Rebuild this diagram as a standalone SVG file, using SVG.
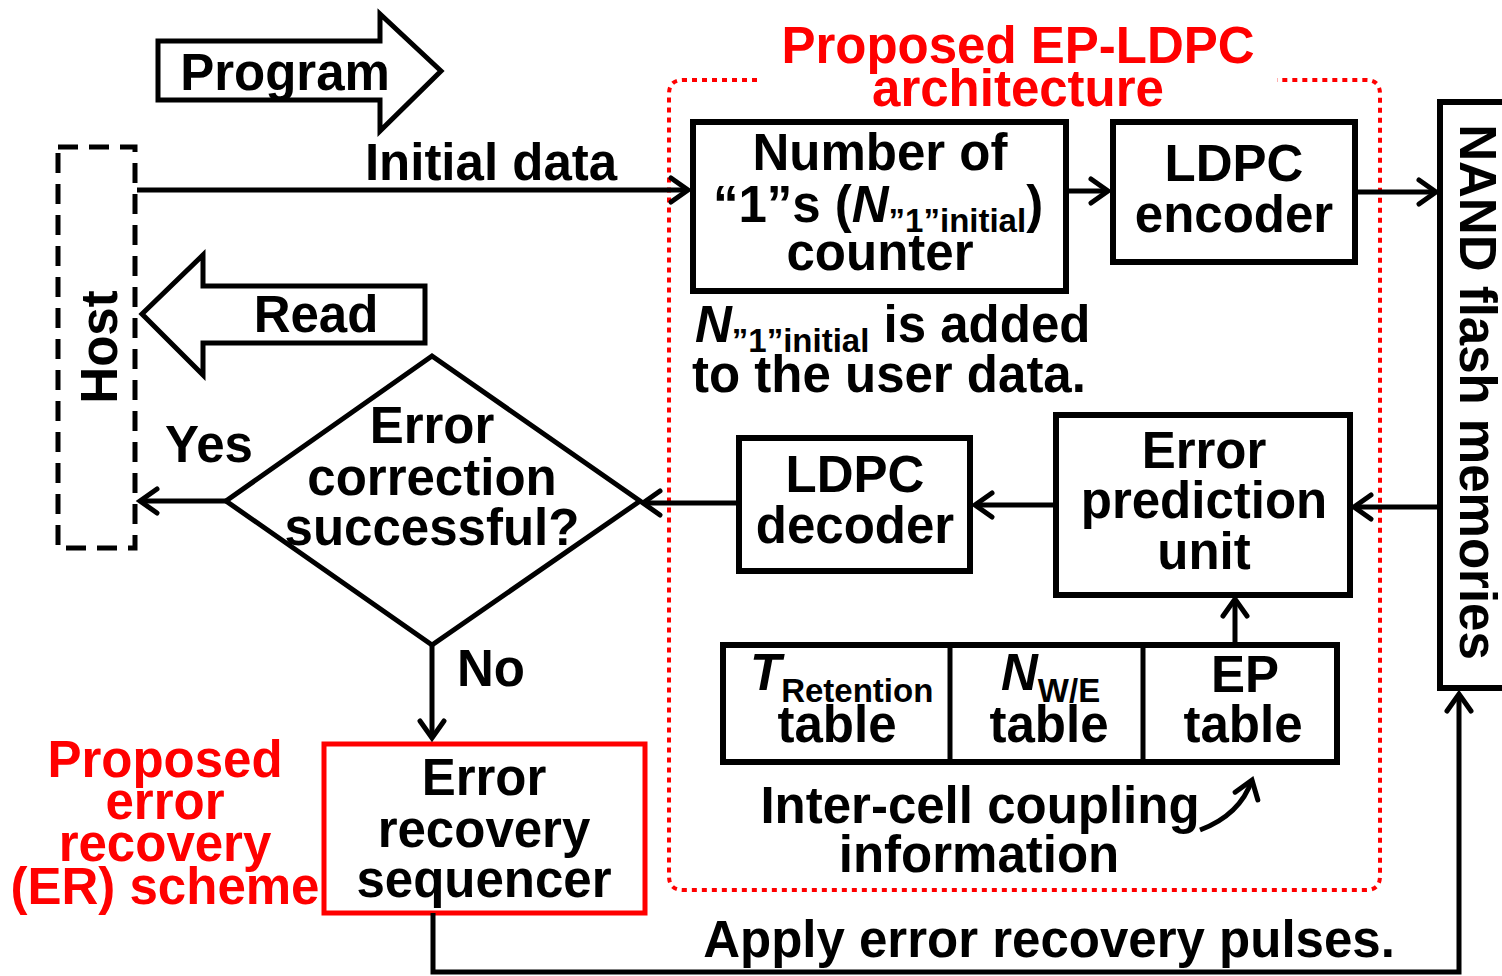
<svg xmlns="http://www.w3.org/2000/svg" width="1502" height="976" viewBox="0 0 1502 976">
<defs>
<style>
.t{font-family:"Liberation Sans",Arial,sans-serif;font-weight:bold;font-size:51px;fill:#000;text-anchor:middle}
.r{fill:#ff0000}
.sub{font-size:33px}
.box{fill:#fff;stroke:#000;stroke-width:6}
.ln{fill:none;stroke:#000;stroke-width:5}
</style>
<marker id="ah" markerUnits="userSpaceOnUse" markerWidth="30" markerHeight="30" viewBox="-22 -15 26 30" refX="0" refY="0" orient="auto">
<path d="M-17,-12 L0,0 L-17,12" fill="none" stroke="#000" stroke-width="5" stroke-linecap="round" stroke-linejoin="miter"/>
</marker>
</defs>
<rect width="1502" height="976" fill="#fff"/>

<g id="program">
<polygon class="ln" points="158,41 380,41 380,14 441,71 380,131 380,100 158,100"/>
<text class="t" x="285" y="90">Program</text>
</g>

<g id="read">
<polygon class="ln" points="425,286 203,286 203,255 142,314 203,375 203,343 425,343"/>
<text class="t" x="316" y="332">Read</text>
</g>

<g id="host">
<rect x="58" y="147" width="77" height="401" fill="none" stroke="#000" stroke-width="5" stroke-dasharray="20,11"/>
<text class="t" transform="translate(117,347) rotate(-90)">Host</text>
</g>

<g id="title">
<text class="t r" x="1018" y="63">Proposed EP-LDPC</text>
<text class="t r" x="1018" y="106">architecture</text>
<path d="M757,80 H683 Q669,80 669,94 V876 Q669,890 683,890 H1366 Q1380,890 1380,876 V94 Q1380,80 1366,80 H1277" fill="none" stroke="#ff0000" stroke-width="4" stroke-dasharray="5,5"/>
</g>

<g id="counter">
<rect class="box" x="693" y="122" width="373" height="169"/>
<text class="t" x="880" y="170">Number of</text>
<text class="t" x="878" y="222">“1”s (<tspan font-style="italic">N</tspan><tspan class="sub" dy="10">”1”initial</tspan><tspan dy="-10">)</tspan></text>
<text class="t" x="880" y="270">counter</text>
</g>

<g id="note">
<text class="t" x="695" y="342" style="text-anchor:start"><tspan font-style="italic">N</tspan><tspan class="sub" dy="10">”1”initial</tspan><tspan dy="-10"> is added</tspan></text>
<text class="t" x="692" y="392" style="text-anchor:start">to the user data.</text>
</g>

<g id="encoder">
<rect class="box" x="1113" y="122" width="242" height="140"/>
<text class="t" x="1234" y="181">LDPC</text>
<text class="t" x="1234" y="232">encoder</text>
</g>

<g id="nand">
<rect class="box" x="1440" y="102" width="80" height="586"/>
<text class="t" transform="translate(1460,392) rotate(90)">NAND flash memories</text>
</g>

<g id="epu">
<rect class="box" x="1056" y="415" width="294" height="180"/>
<text class="t" x="1204" y="468">Error</text>
<text class="t" x="1204" y="518">prediction</text>
<text class="t" x="1204" y="569">unit</text>
</g>

<g id="decoder">
<rect class="box" x="739" y="438" width="231" height="133"/>
<text class="t" x="855" y="492">LDPC</text>
<text class="t" x="855" y="543">decoder</text>
</g>

<g id="tables">
<rect class="box" x="723" y="645" width="614" height="117"/>
<line x1="950" y1="645" x2="950" y2="762" stroke="#000" stroke-width="5"/>
<line x1="1143" y1="645" x2="1143" y2="762" stroke="#000" stroke-width="5"/>
<text class="t" x="750" y="690" style="text-anchor:start"><tspan font-style="italic">T</tspan><tspan class="sub" dy="12">Retention</tspan></text>
<text class="t" x="837" y="742">table</text>
<text class="t" x="1001" y="690" style="text-anchor:start"><tspan font-style="italic">N</tspan><tspan class="sub" dy="12">W/E</tspan></text>
<text class="t" x="1049" y="742">table</text>
<text class="t" x="1245" y="692">EP</text>
<text class="t" x="1243" y="742">table</text>
</g>

<g id="coupling">
<text class="t" x="980" y="823">Inter-cell coupling</text>
<text class="t" x="979" y="872">information</text>
</g>

<g id="decision">
<polygon class="ln" points="432,356 640,501 432,645 226,501"/>
<text class="t" x="432" y="443">Error</text>
<text class="t" x="432" y="495">correction</text>
<text class="t" x="432" y="545">successful?</text>
</g>

<g id="labels">
<text class="t" x="209" y="462">Yes</text>
<text class="t" x="457" y="686" style="text-anchor:start">No</text>
<text class="t" x="491" y="180">Initial data</text>
<text class="t" x="1049" y="957">Apply error recovery pulses.</text>
</g>

<g id="er-label">
<text class="t r" x="165" y="777">Proposed</text>
<text class="t r" x="165" y="819">error</text>
<text class="t r" x="165" y="861">recovery</text>
<text class="t r" x="165" y="904">(ER) scheme</text>
</g>

<g id="sequencer">
<rect x="324" y="744" width="321" height="169" fill="#fff" stroke="#ff0000" stroke-width="5"/>
<text class="t" x="484" y="795">Error</text>
<text class="t" x="484" y="847">recovery</text>
<text class="t" x="484" y="897">sequencer</text>
</g>

<g id="connectors">
<line class="ln" x1="137" y1="190" x2="688" y2="190" marker-end="url(#ah)"/>
<line class="ln" x1="1066" y1="191" x2="1108" y2="191" marker-end="url(#ah)"/>
<line class="ln" x1="1355" y1="192" x2="1436" y2="192" marker-end="url(#ah)"/>
<line class="ln" x1="1440" y1="507" x2="1354" y2="507" marker-end="url(#ah)"/>
<line class="ln" x1="1056" y1="505" x2="975" y2="505" marker-end="url(#ah)"/>
<line class="ln" x1="739" y1="503" x2="643" y2="503" marker-end="url(#ah)"/>
<line class="ln" x1="226" y1="501" x2="140" y2="501" marker-end="url(#ah)"/>
<line class="ln" x1="432" y1="645" x2="432" y2="738" marker-end="url(#ah)"/>
<line class="ln" x1="1235" y1="645" x2="1235" y2="599" marker-end="url(#ah)"/>
<path class="ln" d="M1200,830 Q1240,815 1252,780" marker-end="url(#ah)"/>
<polyline class="ln" points="433,913 433,972 1459,972 1459,694" marker-end="url(#ah)"/>
</g>
</svg>
